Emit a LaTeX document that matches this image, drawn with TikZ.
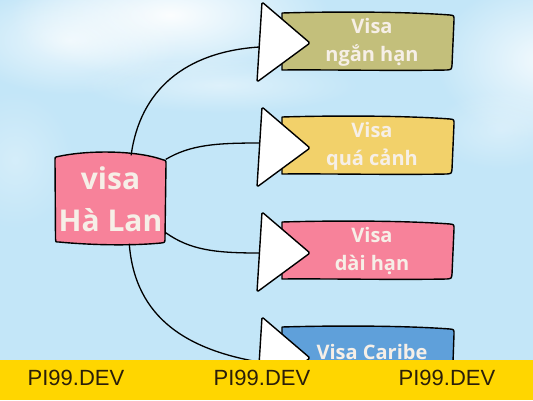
\documentclass[tikz,border=0pt]{standalone}
\usepackage{fontspec}
\setmainfont{Open Sans}
\newfontfamily\wmfont{Liberation Sans}
\usetikzlibrary{calc,fadings}
\pgfdeclarelayer{skylayer}
\pgfdeclarelayer{filllayer}
\pgfsetlayers{skylayer,filllayer,main}
\definecolor{skyblue}{HTML}{C3E6F8}
\definecolor{cream}{HTML}{F6EFE7}
\definecolor{olive}{HTML}{C3BF7B}
\definecolor{sand}{HTML}{F2D16A}
\definecolor{rose}{HTML}{F7829A}
\definecolor{azure}{HTML}{5FA0DA}
\definecolor{barcol}{HTML}{FFD600}
\definecolor{wmtext}{HTML}{2A1E0A}
\tikzfading[name=softcloud, inner color=transparent!0, outer color=transparent!100]
\newcommand{\sketchbox}[5]{%
 \draw[sketch, fill=#5] ({#1},{#2}) .. controls ({#1+50},{#2-1.5}) and ({#3-50},{#2-1.5}) .. ({#3-4},{#2+2})
   .. controls ({#3},{#2+2.5}) .. ({#3},{#2+7}) -- ({#3-2},{#4-5})
   .. controls ({#3-2.5},{#4-0.5}) .. ({#3-7},{#4})
   .. controls ({#3-60},{#4+1}) and ({#1+40},{#4-0.5}) .. ({#1},{#4}) -- cycle;}
\newcommand{\sketchtri}[1]{%
 \draw[tri] (262,{2+#1}) -- (310,{43+#1}) -- (257,{82+#1}) -- cycle;}
\begin{document}
\begin{tikzpicture}[x=1pt,y=-1pt,
  sketch/.style={draw=black, line width=1.4pt, line join=round},
  tri/.style={sketch, fill=white, rounded corners=1.5pt},
  link/.style={draw=black, line width=1.3pt},
  boxtext/.style={text=cream, font=\bfseries\fontsize{20}{28}\selectfont, align=center, inner sep=0pt},
  hubtext/.style={text=cream, font=\bfseries\fontsize{30}{42}\selectfont, align=center, inner sep=0pt, minimum width=110pt, minimum height=88pt},
  wm/.style={text=wmtext, font=\wmfont\fontsize{22}{22}\selectfont, inner sep=0pt, anchor=base},
  cloud/.style={fill=white, path fading=softcloud}]
\useasboundingbox (0,0) rectangle (533,400);
\begin{pgfonlayer}{skylayer}
\fill[skyblue] (0,0) rectangle (533,400);
\fill[cloud, fill opacity=0.95] (170,15) ellipse [x radius=160pt, y radius=65pt];
\fill[cloud, fill opacity=0.7] (70,40) ellipse [x radius=110pt, y radius=55pt];
\fill[cloud, fill opacity=0.45] (220,85) ellipse [x radius=140pt, y radius=28pt];
\fill[cloud, fill opacity=0.8] (545,60) ellipse [x radius=110pt, y radius=80pt];
\fill[cloud, fill opacity=0.35] (500,130) ellipse [x radius=70pt, y radius=40pt];
\fill[cloud, fill opacity=0.3] (15,160) ellipse [x radius=60pt, y radius=70pt];
\end{pgfonlayer}
% hub
\node[hubtext] (hub) at (110.5,199.5) {visa\\Hà Lan};
\begin{pgfonlayer}{filllayer}
\draw[sketch, fill=rose] (56,157) .. controls (85,150) and (135,150) .. (162,159.5)
  .. controls (166,160.5) .. (166,164) -- (165,238) .. controls (165,242.5) .. (161,243)
  .. controls (130,246) and (90,245) .. (59,242) .. controls (55.5,242) .. (55.5,239)
  -- (55,160) .. controls (55,157.5) .. (56,157) -- cycle;
\sketchbox{282}{13}{454}{70}{olive}
\sketchbox{282}{117}{454}{174}{sand}
\sketchbox{282}{222}{454}{279}{rose}
\sketchbox{282}{327}{454}{396}{azure}
\end{pgfonlayer}
% box texts
\node[boxtext] (b1) at (372,42.5) {Visa\\ngắn hạn};
\node[boxtext] (b2) at (372,146) {Visa\\quá cảnh};
\node[boxtext] (b3) at (372,251) {Visa\\dài hạn};
\node[boxtext, anchor=base] (b4) at (372,359) {Visa Caribe};
% triangle attach points
\coordinate (t1) at (259,47);
\coordinate (t2) at (259,143);
\coordinate (t3) at (259,253);
\coordinate (t4) at (259,362);
% connectors
\draw[link] (hub.65) .. controls (140,90) and (185,52) .. (t1);
\draw[link] (hub.36) .. controls (190,145) and (215,143) .. (t2);
\draw[link] (hub.-31) .. controls (190,250) and (215,253) .. (t3);
\draw[link] (hub.-67) .. controls (135,320) and (190,350) .. (t4);
% triangles
\sketchtri{0}
\sketchtri{105}
\sketchtri{210}
\sketchtri{315}
% watermark bar
\fill[barcol] (0,360) rectangle (533,400);
\node[wm] (w1) at (76,385) {PI99.DEV};
\node[wm] (w2) at (262,385) {PI99.DEV};
\node[wm] (w3) at (447,385) {PI99.DEV};
\end{tikzpicture}
\end{document}
